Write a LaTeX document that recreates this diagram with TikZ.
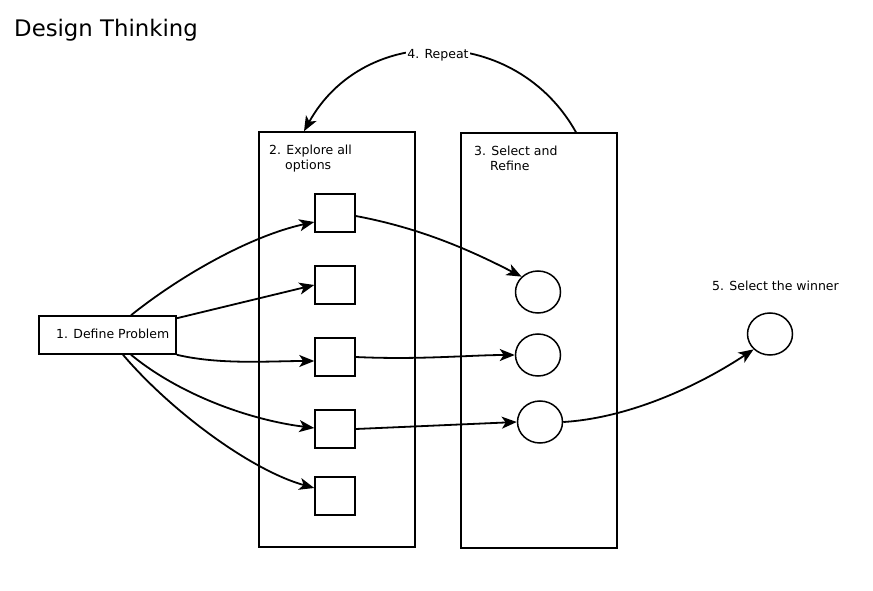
\documentclass[tikz,border=0pt]{standalone}
\usepackage{fontspec}
\setmainfont{DejaVu Sans}
\usetikzlibrary{arrows.meta,calc,shapes.geometric}
\begin{document}
\begin{tikzpicture}[x=1pt,y=-1pt,
  lw/.style={line width=1.5pt},
  frame/.style={draw,lw,rectangle,inner sep=0pt},
  sq/.style={draw,lw,rectangle,inner sep=0pt,minimum width=40pt,minimum height=38pt},
  circ/.style={draw,lw,ellipse,inner sep=0pt,minimum width=45pt,minimum height=42pt},
  lbl/.style={font=\fontsize{12.5}{14}\selectfont,inner sep=0pt},
  conn/.style={line width=1.8pt,-{Stealth[length=15pt,width=12pt,inset=4pt]}}]
\useasboundingbox (0,0) rectangle (873,591);
\node[anchor=base west,inner sep=0pt,font=\fontsize{22.8}{26}\selectfont] (title) at (14,37) {Design Thinking};
% frames
\node[frame,minimum width=137pt,minimum height=38pt] (dp) at (107.5,335) {};
\node[lbl,anchor=base west] (dpt) at (56,338) {1. Define Problem};
\node[frame,minimum width=156pt,minimum height=415pt] (ex) at (337,339.5) {};
\node[frame,minimum width=156pt,minimum height=415pt] (se) at (539,340.5) {};
\node[lbl,anchor=base west] (ex1) at (269,155) {2. Explore all};
\node[lbl,anchor=base west] (ex2) at (285,170) {options};
\node[lbl,anchor=base west] (se1) at (474,156) {3. Select and};
\node[lbl,anchor=base west] (se2) at (490,171) {Refine};
% squares
\node[sq] (s1) at (335,213) {};
\node[sq] (s2) at (335,285) {};
\node[sq] (s3) at (335,357) {};
\node[sq] (s4) at (335,429) {};
\node[sq] (s5) at (335,496) {};
% circles
\node[circ] (c1) at (538,292) {};
\node[circ] (c2) at (538,355) {};
\node[circ] (c3) at (540,422) {};
\node[circ] (w) at (770,334) {};
\node[lbl,anchor=base west] (wt) at (712,290) {5. Select the winner};
% connectors
\draw[conn] ($(dp.north)+(23.5,0)$) .. controls (180,276) and (250,236) .. (s1.west |- 0,222);
\draw[conn] ($(dp.north east)+(0,3)$) -- (s2.west |- 0,285);
\draw[conn] (dp.south east) .. controls (220,365) and (270,361) .. (s3.west |- 0,361);
\draw[conn] ($(dp.south)+(23.5,0)$) .. controls (180,395) and (250,420) .. (s4.west |- 0,428);
\draw[conn] ($(dp.south)+(15.5,0)$) .. controls (170,410) and (250,470) .. (s5.west |- 0,488);
\draw[conn] (s1.east |- 0,216) .. controls (420,228) and (470,250) .. (c1.north west);
\draw[conn] (s3.east |- 0,357) .. controls (420,360) and (470,355) .. (c2.west);
\draw[conn] (s4.east |- 0,429) -- (c3.west);
\draw[conn] (c3.east) .. controls (630,418) and (700,385) .. (w.south west);
\draw[conn] (se.north -| 576,0) .. controls (516,25) and (364,23) .. (ex.north -| 304,0);
\node[lbl,fill=white,inner sep=1pt] (rep) at (438,55) {4. Repeat};
\end{tikzpicture}
\end{document}
